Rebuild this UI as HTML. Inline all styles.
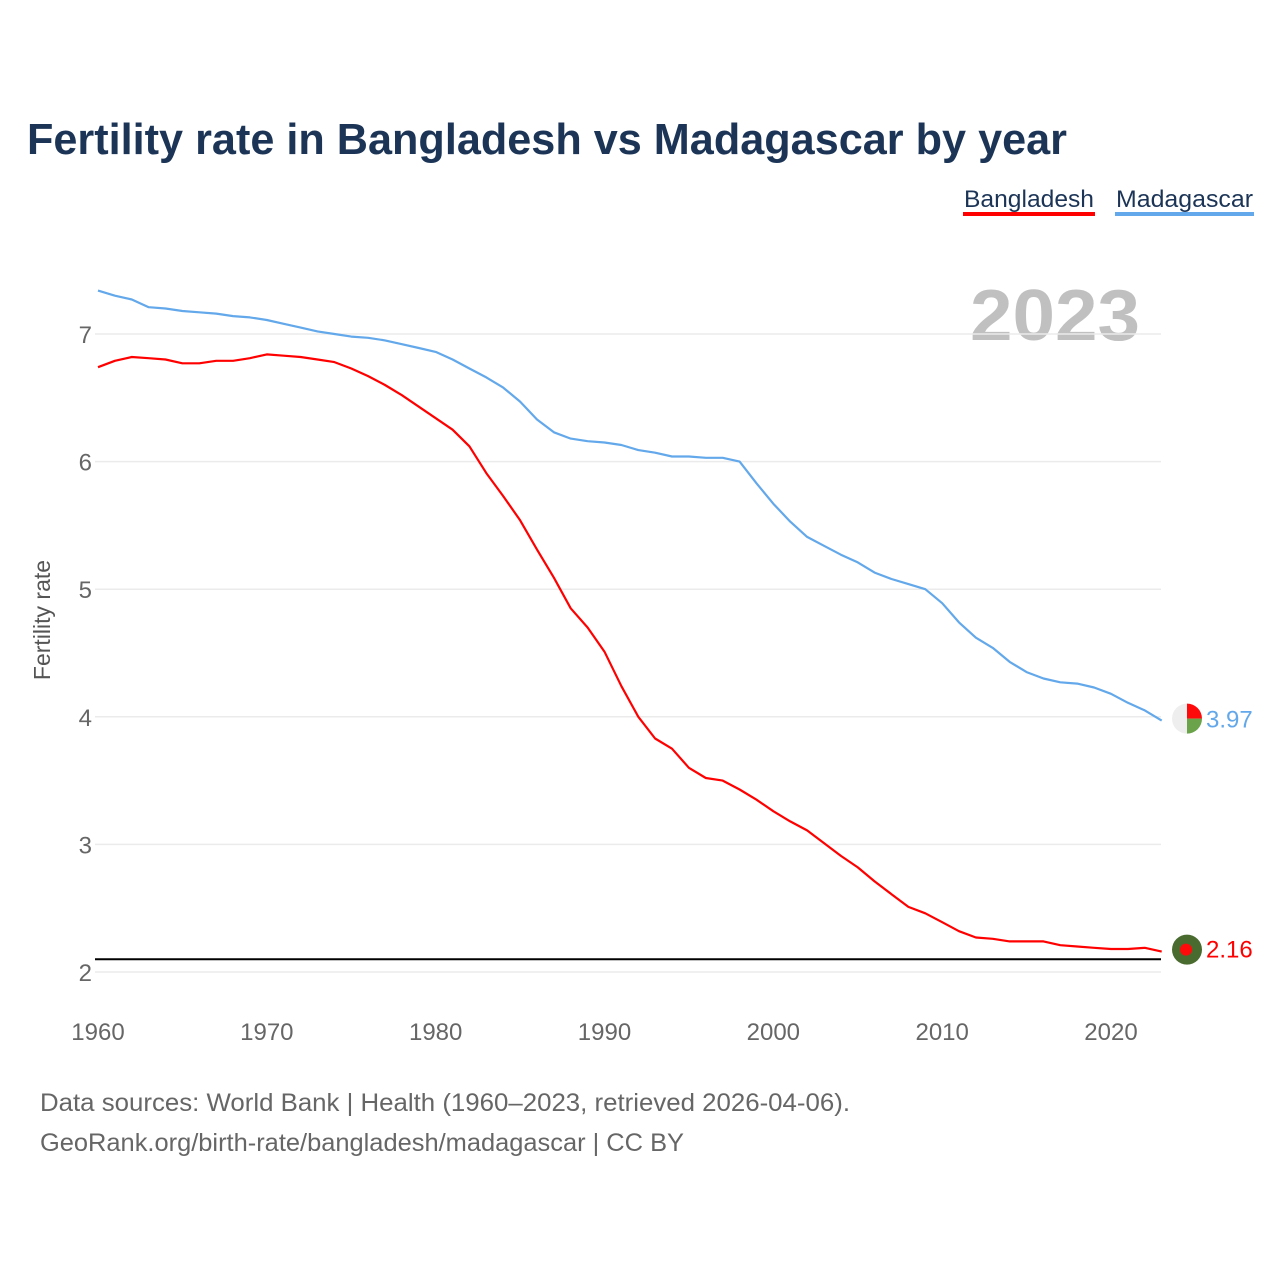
<!DOCTYPE html>
<html><head><meta charset="utf-8">
<style>
html,body{margin:0;padding:0;background:#fff;}
body{width:1280px;height:1280px;position:relative;font-family:"Liberation Sans",sans-serif;overflow:hidden;}
svg{position:absolute;left:0;top:0;}
</style></head>
<body>
<svg id="chart" width="1280" height="1280">
  <text x="27" y="154" font-size="44" font-weight="bold" fill="#1c3557" textLength="1040" lengthAdjust="spacingAndGlyphs">Fertility rate in Bangladesh vs Madagascar by year</text>
  <g>
    <text x="964" y="207" font-size="24" fill="#1c3557" textLength="130" lengthAdjust="spacingAndGlyphs">Bangladesh</text>
    <rect x="963" y="212" width="132" height="4" fill="#ff0000"/>
    <text x="1116" y="207" font-size="24" fill="#1c3557" textLength="137" lengthAdjust="spacingAndGlyphs">Madagascar</text>
    <rect x="1115" y="212" width="139" height="4" fill="#63a8ea"/>
  </g>
  <text x="970" y="340" font-size="72" font-weight="bold" fill="#c0c0c0" textLength="170" lengthAdjust="spacingAndGlyphs">2023</text>
  <text transform="translate(50,620) rotate(-90)" font-size="23" fill="#555" text-anchor="middle">Fertility rate</text>
  <g id="grid"></g>
  <g id="lines"></g>
  <g id="markers"></g>
  <text x="40" y="1111" font-size="25" fill="#666" textLength="810" lengthAdjust="spacingAndGlyphs">Data sources: World Bank | Health (1960–2023, retrieved 2026-04-06).</text>
  <text x="40" y="1151" font-size="25" fill="#666" textLength="644" lengthAdjust="spacingAndGlyphs">GeoRank.org/birth-rate/bangladesh/madagascar | CC BY</text>
</svg>
<script>
const years = [];
for (let y = 1960; y <= 2023; y++) years.push(y);
const bangladesh = [6.74,6.79,6.82,6.81,6.80,6.77,6.77,6.79,6.79,6.81,6.84,6.83,6.82,6.80,6.78,6.73,6.67,6.60,6.52,6.43,6.34,6.25,6.12,5.91,5.73,5.54,5.31,5.09,4.85,4.70,4.51,4.24,4.00,3.83,3.75,3.60,3.52,3.50,3.43,3.35,3.26,3.18,3.11,3.01,2.91,2.82,2.71,2.61,2.51,2.46,2.39,2.32,2.27,2.26,2.24,2.24,2.24,2.21,2.20,2.19,2.18,2.18,2.19,2.16];
const madagascar = [7.34,7.30,7.27,7.21,7.20,7.18,7.17,7.16,7.14,7.13,7.11,7.08,7.05,7.02,7.00,6.98,6.97,6.95,6.92,6.89,6.86,6.80,6.73,6.66,6.58,6.47,6.33,6.23,6.18,6.16,6.15,6.13,6.09,6.07,6.04,6.04,6.03,6.03,6.00,5.83,5.67,5.53,5.41,5.34,5.27,5.21,5.13,5.08,5.04,5.00,4.89,4.74,4.62,4.54,4.43,4.35,4.30,4.27,4.26,4.23,4.18,4.11,4.05,3.97];
const yTicks = [2,3,4,5,6,7];
const xTicks = [1960,1970,1980,1990,2000,2010,2020];
const replacementLevel = [2.1];

const NS = "http://www.w3.org/2000/svg";
const xs = yr => 98 + (yr - 1960) * (1111 - 98) / 60;
const ys = v => 334 + (7 - v) * 127.6;
function mk(tag, attrs, parent) {
  const e = document.createElementNS(NS, tag);
  for (const k in attrs) e.setAttribute(k, attrs[k]);
  parent.appendChild(e);
  return e;
}
const grid = document.getElementById('grid');
yTicks.forEach(t => {
  const l = mk('line', {x1: 95, x2: 1161, y1: ys(t), y2: ys(t), stroke: '#ebebeb', 'stroke-width': 1.5}, grid);
  
  
  const tx = mk('text', {x: 92, y: ys(t) + 9, 'font-size': 24, fill: '#666', 'text-anchor': 'end'}, grid);
  tx.textContent = t;
  
  
});
xTicks.forEach(t => {
  const tx = mk('text', {x: xs(t), y: 1040, 'font-size': 24, fill: '#666', 'text-anchor': 'middle'}, grid);
  tx.textContent = t;
  
  
});
const rl = mk('line', {x1: 95, x2: 1161, y1: ys(replacementLevel[0]), y2: ys(replacementLevel[0]), stroke: '#000', 'stroke-width': 2}, grid);



const lines = document.getElementById('lines');
function series(vals, color, name) {
  const d = vals.map((v, i) => (i ? 'L' : 'M') + xs(years[i]).toFixed(1) + ',' + ys(v).toFixed(1)).join(' ');
  const p = mk('path', {d: d, fill: 'none', stroke: color, 'stroke-width': 2.2, 'stroke-linejoin': 'round'}, lines);
  
  
}
series(madagascar, '#63a8ea', 'line-madagascar');
series(bangladesh, '#ff0000', 'line-bangladesh');

const mg = document.getElementById('markers');
const mLast = madagascar[madagascar.length - 1], bLast = bangladesh[bangladesh.length - 1];
const cx = 1187;
const my = ys(mLast) - 2;
const fg = mk('g', {}, mg);


mk('circle', {cx: cx, cy: my, r: 15, fill: '#eeeeee'}, fg);
mk('path', {d: `M${cx},${my} L${cx},${my-15} A15,15 0 0 1 ${cx+15},${my} Z`, fill: '#ff0a0a'}, fg);
mk('path', {d: `M${cx},${my} L${cx+15},${my} A15,15 0 0 1 ${cx},${my+15} Z`, fill: '#6aa34a'}, fg);
const mt = mk('text', {x: 1206, y: my + 9, 'font-size': 24, fill: '#63a8ea'}, mg);
mt.textContent = mLast.toFixed(2);


const by = ys(bLast) - 2;
const bg = mk('g', {}, mg);


mk('circle', {cx: cx, cy: by, r: 15, fill: '#4a6b30'}, bg);
mk('circle', {cx: cx - 1, cy: by, r: 6, fill: '#ff0a0a'}, bg);
const bt = mk('text', {x: 1206, y: by + 8, 'font-size': 24, fill: '#ff0000'}, mg);
bt.textContent = bLast.toFixed(2);


</script>
</body></html>
